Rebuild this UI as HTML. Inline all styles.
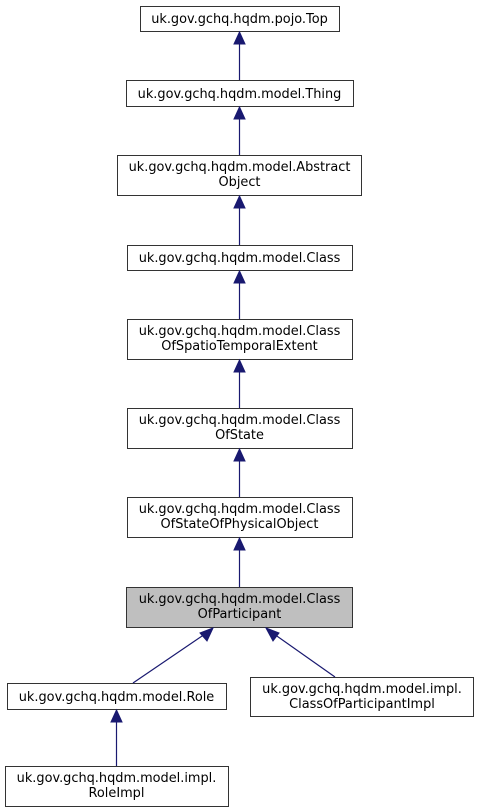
<!DOCTYPE html>
<html><head><meta charset="utf-8"><style>
html,body{margin:0;padding:0;background:#fff;}
svg{display:block;}
text{font-family:"DejaVu Sans","Liberation Sans",sans-serif;font-size:12.9px;fill:#000;}
</style></head><body>
<svg width="479" height="812" viewBox="0 0 479 812" xmlns="http://www.w3.org/2000/svg">
<g fill="#fff" stroke="#333" stroke-width="1">
<rect x="140.5" y="6.5" width="199" height="25"/>
<rect x="126.5" y="80.5" width="227" height="26"/>
<rect x="117.5" y="155.5" width="244" height="40"/>
<rect x="127.5" y="245.5" width="225" height="25"/>
<rect x="127.5" y="319.5" width="225" height="40"/>
<rect x="127.5" y="408.5" width="225" height="40"/>
<rect x="127.5" y="497.5" width="225" height="40"/>
<rect x="126.5" y="587.5" width="226" height="40" fill="#bfbfbf"/>
<rect x="7.5" y="683.5" width="219" height="26"/>
<rect x="250.5" y="677.5" width="223" height="39"/>
<rect x="5.5" y="766.5" width="223" height="40"/>
</g>
<g stroke="#191970" stroke-width="1.2" fill="none">
<line x1="239.5" y1="42" x2="239.5" y2="80"/>
<line x1="239.5" y1="117" x2="239.5" y2="155"/>
<line x1="239.5" y1="206" x2="239.5" y2="245"/>
<line x1="239.5" y1="281" x2="239.5" y2="319"/>
<line x1="239.5" y1="370" x2="239.5" y2="408"/>
<line x1="239.5" y1="459" x2="239.5" y2="497"/>
<line x1="239.5" y1="548" x2="239.5" y2="587"/>
<line x1="205" y1="634" x2="133" y2="683"/>
<line x1="274" y1="634" x2="335" y2="677"/>
<line x1="116.5" y1="720" x2="116.5" y2="766"/>
</g>
<g fill="#191970" stroke="#191970">
<polygon points="239.5,32 234,44 245,44"/>
<polygon points="239.5,107 234,119 245,119"/>
<polygon points="239.5,196 234,208 245,208"/>
<polygon points="239.5,271 234,283 245,283"/>
<polygon points="239.5,360 234,372 245,372"/>
<polygon points="239.5,449 234,461 245,461"/>
<polygon points="239.5,538 234,550 245,550"/>
<polygon points="213,628 200,633 207,641"/>
<polygon points="266,628 273,641 279,633"/>
<polygon points="116.5,710 111,722 122,722"/>
</g>
<g text-anchor="middle">
<text x="239.5" y="23">uk.gov.gchq.hqdm.pojo.Top</text>
<text x="239.5" y="98">uk.gov.gchq.hqdm.model.Thing</text>
<text x="239.5" y="171">uk.gov.gchq.hqdm.model.Abstract</text>
<text x="239.5" y="186">Object</text>
<text x="239.5" y="262">uk.gov.gchq.hqdm.model.Class</text>
<text x="239.5" y="335">uk.gov.gchq.hqdm.model.Class</text>
<text x="239.5" y="350">OfSpatioTemporalExtent</text>
<text x="239.5" y="424">uk.gov.gchq.hqdm.model.Class</text>
<text x="239.5" y="439">OfState</text>
<text x="239.5" y="513">uk.gov.gchq.hqdm.model.Class</text>
<text x="239.5" y="528">OfStateOfPhysicalObject</text>
<text x="239.5" y="603">uk.gov.gchq.hqdm.model.Class</text>
<text x="239.5" y="618">OfParticipant</text>
<text x="116.5" y="701">uk.gov.gchq.hqdm.model.Role</text>
<text x="362" y="693">uk.gov.gchq.hqdm.model.impl.</text>
<text x="362" y="708">ClassOfParticipantImpl</text>
<text x="116.5" y="782">uk.gov.gchq.hqdm.model.impl.</text>
<text x="116.5" y="797">RoleImpl</text>
</g>
</svg>
</body></html>
